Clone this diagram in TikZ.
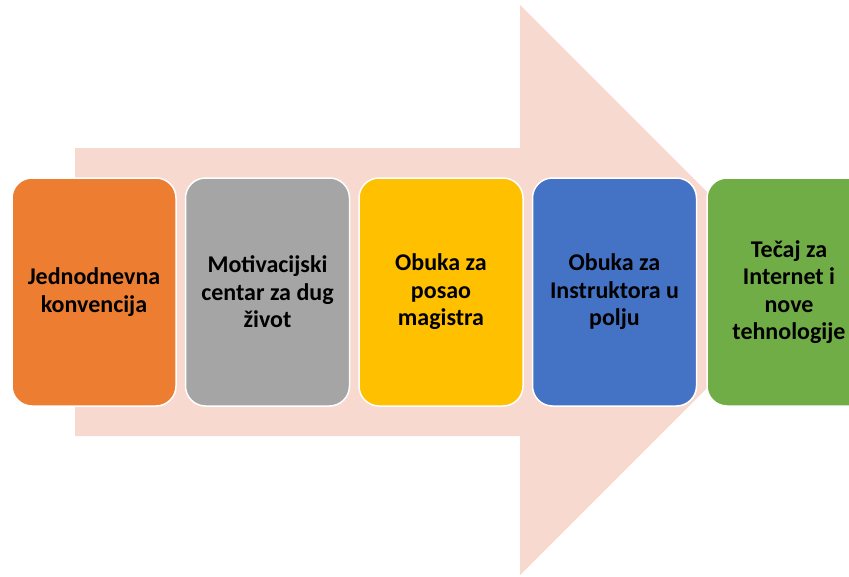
\documentclass[tikz,border=0pt]{standalone}
\usepackage{fontspec}
\setmainfont{Carlito}
\definecolor{arrowc}{HTML}{F8D9CF}
\definecolor{c1}{HTML}{ED7D31}
\definecolor{c2}{HTML}{A5A5A5}
\definecolor{c3}{HTML}{FFC000}
\definecolor{c4}{HTML}{4472C4}
\definecolor{c5}{HTML}{70AD47}
\tikzset{
  stagebox/.style={rectangle, rounded corners=20pt, draw=white, line width=1.5pt,
    minimum width=164pt, minimum height=228pt, align=center,
    inner sep=0pt, text=black,
    font=\fontsize{24}{27.5}\selectfont\bfseries}
}
\begin{document}
\begin{tikzpicture}[x=1pt,y=-1pt]
\useasboundingbox (0,0) rectangle (849,576);
\clip (0,0) rectangle (849,576);
\fill[arrowc] (75,148) -- (520,148) -- (520,5) -- (805,290) -- (520,575) -- (520,436) -- (75,436) -- cycle;
\node[stagebox, fill=c1] (s1) at (94,292) {Jednodnevna\\konvencija};
\node[stagebox, fill=c2] (s2) at (267.5,292) {Motivacijski\\centar za dug\\život};
\node[stagebox, fill=c3] (s3) at (441,292) {Obuka za\\posao\\magistra};
\node[stagebox, fill=c4] (s4) at (614.5,292) {Obuka za\\Instruktora u\\polju};
\node[stagebox, fill=c5] (s5) at (789,292) {Tečaj za\\Internet i\\nove\\tehnologije};
\end{tikzpicture}
\end{document}
